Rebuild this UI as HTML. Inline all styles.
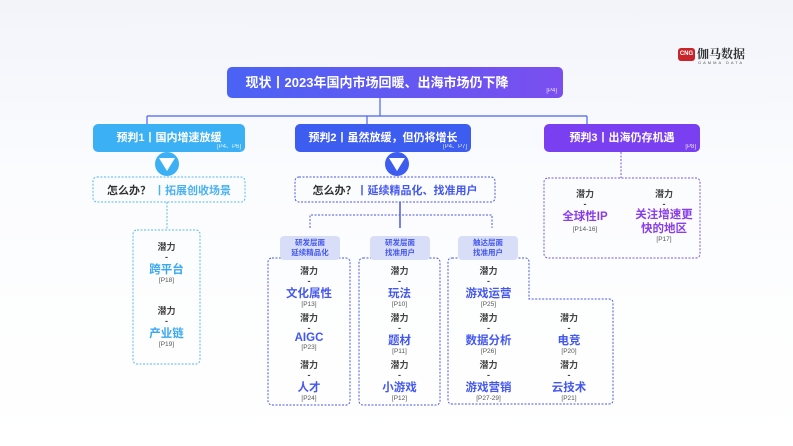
<!DOCTYPE html>
<html><head><meta charset="utf-8"><style>
*{margin:0;padding:0;box-sizing:border-box}
body{width:793px;height:446px;overflow:hidden;background:linear-gradient(180deg,#f2f4fa 0%,#fbfcfe 40%,#ffffff 100%);font-family:"Liberation Sans","Noto Sans CJK SC",sans-serif;position:relative}
.a{position:absolute}
.box{position:absolute;border-radius:5px;color:#fff;font-weight:bold;text-align:center}
.ref{position:absolute;font-size:6px;color:#fff;font-weight:normal;opacity:.85}
.c{position:absolute;text-align:center;white-space:nowrap}
.q{font-size:9px;font-weight:bold;color:#444}
.d{font-size:9px;font-weight:bold;color:#444;line-height:8px}
.v{font-size:11.5px;font-weight:bold;color:#4458ee}
.r{font-size:6.5px;color:#555}
.tag{position:absolute;background:#d9def8;color:#4458ee;border-radius:4px;font-size:7.5px;font-weight:bold;text-align:center;line-height:10px;padding-top:2px}
</style></head><body>
<div class="a" style="left:678px;top:48px;width:17px;height:13px;background:#c8242a;border-radius:3px;color:#fff;font-size:6px;font-weight:bold;line-height:13px;text-align:center">CNG</div>
<div class="a" style="left:697px;top:45px;font-size:12px;font-weight:bold;color:#333;font-family:'Noto Serif CJK SC',serif">伽马数据</div>
<div class="a" style="left:698px;top:60px;font-size:4px;color:#555;letter-spacing:2px">GAMMA DATA</div>

<svg class="a" style="left:0;top:0" width="793" height="446">
<g stroke="#4a63f0" stroke-width="1.2" fill="none">
<line x1="380" y1="98" x2="380" y2="116"/>
<line x1="147" y1="116" x2="587" y2="116"/>
<line x1="147" y1="116" x2="147" y2="124"/>
<line x1="367" y1="116" x2="367" y2="124"/>
<line x1="587" y1="116" x2="587" y2="124"/>
</g>
<g fill="none" stroke-dasharray="2,1.5" stroke-width="1">
<rect x="93" y="177" width="152" height="25" rx="4" stroke="#5bb8f0"/>
<line x1="167" y1="202" x2="167" y2="230" stroke="#5bb8f0"/>
<rect x="133" y="230" width="67" height="134" rx="4" stroke="#5bb8f0"/>
<rect x="295" y="177" width="200" height="25" rx="4" stroke="#4a58e6"/>
<line x1="400" y1="202" x2="400" y2="228" stroke="#4a58e6" stroke-dasharray="none" stroke-width="1.5"/>
<path d="M310 228 V215 H492 V228" stroke="#4a58e6"/>
<rect x="268" y="258" width="82" height="147" rx="4" stroke="#4a58e6"/>
<rect x="359" y="258" width="81" height="147" rx="4" stroke="#4a58e6"/>
<path d="M452 258 H525 Q529 258 529 262 V299 H609 Q613 299 613 303 V400 Q613 404 609 404 H452 Q448 404 448 400 V262 Q448 258 452 258 Z" stroke="#4a58e6"/>
<line x1="621" y1="152" x2="621" y2="178" stroke="#7a56e6"/>
<rect x="544" y="178" width="156" height="80" rx="4" stroke="#7a56e6"/>
</g>
<circle cx="167" cy="164" r="12" fill="#3bb0f5"/>
<polygon points="159,158 175,158 167,171" fill="#fff"/>
<circle cx="397" cy="164" r="12" fill="#3d5cf0"/>
<polygon points="389,158 405,158 397,171" fill="#fff"/>
</svg>

<div class="box" style="left:227px;top:67px;width:336px;height:31px;background:linear-gradient(90deg,#4a63f5,#7b4ef0);font-size:13px;line-height:31px;padding-right:36px">现状丨2023年国内市场回暖、出海市场仍下降<span class="ref" style="right:6px;top:20px;line-height:8px">[P4]</span></div>
<div class="box" style="left:93px;top:124px;width:152px;height:28px;background:#3bb0f5;font-size:11px;line-height:28px">预判1丨国内增速放缓<span class="ref" style="right:4px;top:19px;line-height:8px">[P4、P6]</span></div>
<div class="box" style="left:295px;top:124px;width:176px;height:28px;background:#3d5cf0;font-size:11px;line-height:28px">预判2丨虽然放缓，但仍将增长<span class="ref" style="right:4px;top:19px;line-height:8px">[P4、P7]</span></div>
<div class="box" style="left:544px;top:124px;width:156px;height:28px;background:#7a3ff0;font-size:11px;line-height:28px">预判3丨出海仍存机遇<span class="ref" style="right:4px;top:19px;line-height:8px">[P8]</span></div>

<div class="c" style="left:93px;top:182px;width:152px;font-size:11px;font-weight:bold;color:#333">怎么办？ <span style="color:#4ab2f2">丨拓展创收场景</span></div>
<div class="c" style="left:295px;top:182px;width:200px;font-size:11px;font-weight:bold;color:#333">怎么办？<span style="color:#4458ee">丨延续精品化、找准用户</span></div>

<div class="tag" style="left:280px;top:236px;width:60px;height:24px">研发层面<br>延续精品化</div>
<div class="tag" style="left:370px;top:236px;width:60px;height:24px">研发层面<br>找准用户</div>
<div class="tag" style="left:458px;top:236px;width:60px;height:24px">触达层面<br>找准用户</div>

<div class="c" style="left:133px;top:240px;width:67px"><div class="q">潜力</div><div class="d">-</div><div class="v" style="color:#3aa8f0">跨平台</div><div class="r">[P18]</div></div>
<div class="c" style="left:133px;top:304px;width:67px"><div class="q">潜力</div><div class="d">-</div><div class="v" style="color:#3aa8f0">产业链</div><div class="r">[P19]</div></div>

<div class="c" style="left:268px;top:264px;width:82px"><div class="q">潜力</div><div class="d">-</div><div class="v">文化属性</div><div class="r">[P13]</div></div>
<div class="c" style="left:268px;top:311px;width:82px"><div class="q">潜力</div><div class="d">-</div><div class="v">AIGC</div><div class="r">[P23]</div></div>
<div class="c" style="left:268px;top:358px;width:82px"><div class="q">潜力</div><div class="d">-</div><div class="v">人才</div><div class="r">[P24]</div></div>
<div class="c" style="left:359px;top:264px;width:81px"><div class="q">潜力</div><div class="d">-</div><div class="v">玩法</div><div class="r">[P10]</div></div>
<div class="c" style="left:359px;top:311px;width:81px"><div class="q">潜力</div><div class="d">-</div><div class="v">题材</div><div class="r">[P11]</div></div>
<div class="c" style="left:359px;top:358px;width:81px"><div class="q">潜力</div><div class="d">-</div><div class="v">小游戏</div><div class="r">[P12]</div></div>
<div class="c" style="left:448px;top:264px;width:81px"><div class="q">潜力</div><div class="d">-</div><div class="v">游戏运营</div><div class="r">[P25]</div></div>
<div class="c" style="left:448px;top:311px;width:81px"><div class="q">潜力</div><div class="d">-</div><div class="v">数据分析</div><div class="r">[P26]</div></div>
<div class="c" style="left:448px;top:358px;width:81px"><div class="q">潜力</div><div class="d">-</div><div class="v">游戏营销</div><div class="r">[P27-29]</div></div>
<div class="c" style="left:529px;top:311px;width:80px"><div class="q">潜力</div><div class="d">-</div><div class="v">电竞</div><div class="r">[P20]</div></div>
<div class="c" style="left:529px;top:358px;width:80px"><div class="q">潜力</div><div class="d">-</div><div class="v">云技术</div><div class="r">[P21]</div></div>

<div class="c" style="left:550px;top:187px;width:70px"><div class="q">潜力</div><div class="d">-</div><div class="v" style="color:#8a3ee8">全球性IP</div><div class="r" style="margin-top:2px">[P14-16]</div></div>
<div class="c" style="left:624px;top:187px;width:80px"><div class="q">潜力</div><div class="d">-</div><div class="v" style="color:#8a3ee8;line-height:14px">关注增速更<br>快的地区</div><div class="r">[P17]</div></div>
</body></html>
